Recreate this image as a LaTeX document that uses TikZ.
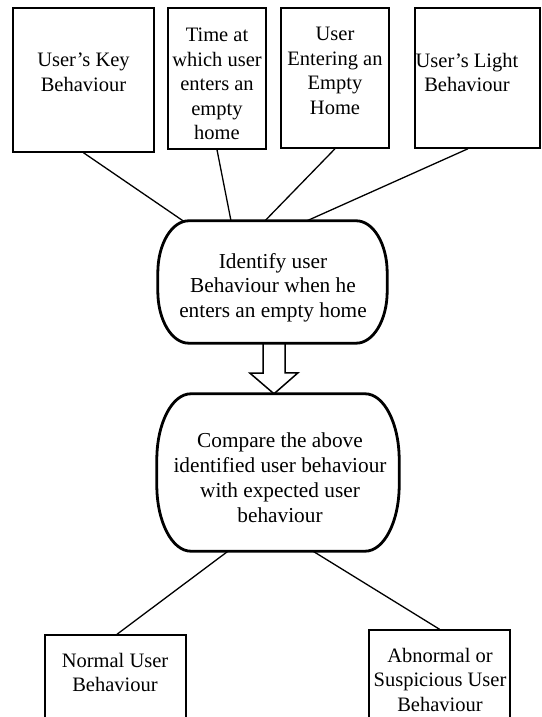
\documentclass[tikz,border=0pt]{standalone}
\usepackage{fontspec}
\setmainfont{Liberation Serif}
\begin{document}
\begin{tikzpicture}[x=1pt,y=1pt,
  box/.style={draw, line width=1.5pt, inner sep=0pt},
  ovalbox/.style={draw=none, inner sep=0pt},
  ovalline/.style={line width=2.8pt, line join=round},
  txt/.style={align=center, inner sep=0pt, anchor=north,
    font=\fontsize{20.5}{24.5}\selectfont},
  bigtxt/.style={txt, font=\fontsize{21.3}{24.8}\selectfont},
  link/.style={line width=1.3pt},
  hollow/.style={line width=1.5pt, fill=white, line join=miter}]
\useasboundingbox (0,0) rectangle (541,717);
\clip (0,0) rectangle (541,717);
\fill[white] (0,0) rectangle (541,717);

% outline of a process box: node name, corner x radius, corner y radius
\newcommand\drawprocessframe[3]{%
  \draw[ovalline] ([xshift=#2]#1.north west) -- ([xshift=-#2]#1.north east)
    arc[start angle=90, end angle=0, x radius=#2, y radius=#3]
    -- ([yshift=#3]#1.south east)
    arc[start angle=0, end angle=-90, x radius=#2, y radius=#3]
    -- ([xshift=#2]#1.south west)
    arc[start angle=270, end angle=180, x radius=#2, y radius=#3]
    -- ([yshift=-#3]#1.north west)
    arc[start angle=180, end angle=90, x radius=#2, y radius=#3] -- cycle;}

% input boxes
\node[box, minimum width=141, minimum height=144] (k1) at (83.5,637) {};
\node[box, minimum width=98,  minimum height=141] (k2) at (217,638.5) {};
\node[box, minimum width=108, minimum height=140] (k3) at (335,639) {};
\node[box, minimum width=125, minimum height=140] (k4) at (477.5,639) {};
\node[txt] (t1) at (83.5,664) {User's Key\\Behaviour};
\node[txt] (t2) at (217,689) {Time at\\which user\\enters an\\empty\\home};
\node[txt] (t3) at (335,690) {User\\Entering an\\Empty\\Home};
\node[txt] (t4) at (467,664) {User's Light\\Behaviour};

% process steps
\node[ovalbox, minimum width=229, minimum height=122] (o1) at (272.5,435) {};
\node[ovalbox, minimum width=242, minimum height=157] (o2) at (278,244.5) {};

% outcomes
\node[box, minimum width=141, minimum height=100] (nb) at (115.5,32) {};
\node[box, minimum width=141, minimum height=100] (ab) at (439.5,37) {};
\node[txt] (tn) at (115,64) {Normal User\\Behaviour};
\node[txt] (ta) at (440,69) {Abnormal or\\Suspicious User\\Behaviour};

% connectors
\draw[link] (k1.south) -- ([xshift=-89.5]o1.north);
\draw[link] (k2.south) -- ([xshift=-41.5]o1.north);
\draw[link] (k3.south) -- ([xshift=-7.5]o1.north);
\draw[link] ([xshift=-9.5]k4.south) -- ([xshift=34.5]o1.north);
\draw[link] ([xshift=-50]o2.south) -- ([xshift=1.5]nb.north);
\draw[link] ([xshift=35]o2.south) -- (ab.north);

% hollow arrow between the two steps
\draw[hollow] ([xshift=-9.5]o1.south) -- ++(0,-30) -- ++(-13,0)
  -- ([xshift=-4]o2.north) -- ++(24,21) -- ++(-13,0)
  -- ([xshift=12.5]o1.south);

\drawprocessframe{o1}{31}{52}
\drawprocessframe{o2}{34}{66}
\node[bigtxt] (to1) at (273,464) {Identify user\\Behaviour when he\\enters an empty home};
\node[bigtxt] (to2) at (280,284) {Compare the above\\identified user behaviour\\with expected user\\behaviour};
\end{tikzpicture}
\end{document}
